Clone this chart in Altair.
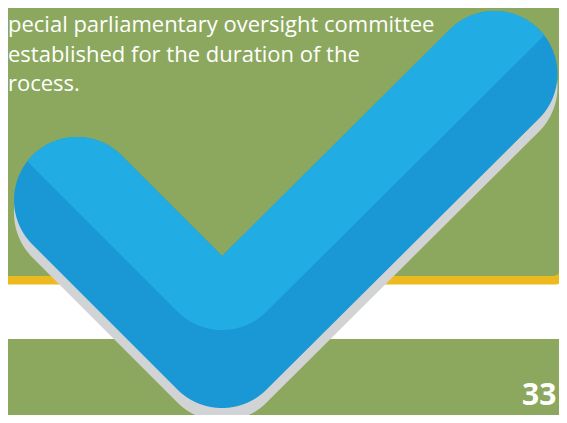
import altair as alt
import numpy as np
import pandas as pd

# ---- content (reference pixel units) ----
# check mark: centres of the two end caps and of the elbow
check_x = [77.0, 222.0, 494.5]
check_y = [200.0, 345.0, 74.0]
check_half_width = 63.0
shadow_drop = 13.0
highlight_lift = 78.0

# background bands: name, left, right, top, bottom, corner radius
band_names = ["white band", "yellow rule", "green panel"]
band_x1 = [-20.0, -20.0, -20.0]
band_x2 = [620.0, 563.0, 561.0]
band_y1 = [266.0, 262.0, -20.0]
band_y2 = [339.0, 284.5, 276.0]
band_corner = [0, 7, 8]
band_colors = ["#FFFFFF", "#ECB91E", "#8CA85E"]

# text
text_lines = ["pecial parliamentary oversight committee",
              "established for the duration of the",
              "rocess."]
text_x = [8.0, 8.0, 8.0]
text_y = [32.0, 61.5, 91.0]
page_number = ["33"]
page_x = [522.0]
page_y = [405.0]

BG_GREEN = "#8CA85E"
LIGHT_BLUE = "#21ADE3"
DARK_BLUE = "#1A97D5"
SHADOW = "#D1D3D4"

# ---- vertical slices of the thick round-capped stroke ----
pts = [np.array([a, b]) for a, b in zip(check_x, check_y)]
r = check_half_width


def capsule_slice(xv, A, B):
    ys = []
    for P in (A, B):
        dx = xv - P[0]
        if abs(dx) <= r:
            s = np.sqrt(max(r * r - dx * dx, 0.0))
            ys += [P[1] - s, P[1] + s]
    d = (B - A) / np.linalg.norm(B - A)
    n = np.array([-d[1], d[0]])
    poly = [A + r * n, B + r * n, B - r * n, A - r * n]
    for i in range(4):
        P, Q = poly[i], poly[(i + 1) % 4]
        if (P[0] - xv) * (Q[0] - xv) <= 0 and P[0] != Q[0]:
            t = (xv - P[0]) / (Q[0] - P[0])
            ys.append(P[1] + t * (Q[1] - P[1]))
    return ys


xmin = min(check_x) - r
xmax = max(check_x) + r
xs = np.unique(np.concatenate([np.arange(xmin, xmax, 0.2), [xmax]]))
rows = []
for xv in xs:
    ys = []
    for i in range(len(pts) - 1):
        ys += capsule_slice(xv, pts[i], pts[i + 1])
    if ys:
        rows.append((xv, min(ys), max(ys)))
stroke = pd.DataFrame(rows, columns=["x", "top", "bot"])

shadow_df = pd.DataFrame({"x": stroke["x"], "top": stroke["top"] + shadow_drop,
                          "bot": stroke["bot"] + shadow_drop})
light_df = pd.DataFrame({"x": stroke["x"], "top": stroke["top"],
                         "bot": stroke["bot"] - highlight_lift})
light_df = light_df[light_df["bot"] > light_df["top"]]

# ---- scales: reference pixels -> chart pixels (page margin 8px) ----
W, H = 551, 407
xs_scale = alt.Scale(domain=[8, 8 + W], range=[0, W], nice=False, zero=False)
ys_scale = alt.Scale(domain=[8, 8 + H], range=[0, H], nice=False, zero=False)

layers = []
for i in range(len(band_names)):
    d = pd.DataFrame({"band": [band_names[i]], "x": [band_x1[i]], "x2": [band_x2[i]],
                      "y": [band_y1[i]], "y2": [band_y2[i]]})
    if band_corner[i]:
        m = alt.Chart(d).mark_rect(color=band_colors[i],
                                   cornerRadiusBottomRight=band_corner[i])
    else:
        m = alt.Chart(d).mark_rect(color=band_colors[i])
    layers.append(m.encode(
        x=alt.X("x:Q", scale=xs_scale, axis=None), x2="x2:Q",
        y=alt.Y("y:Q", scale=ys_scale, axis=None), y2="y2:Q"))

text_df = pd.DataFrame({"line": text_lines, "x": text_x, "y": text_y})
layers.append(alt.Chart(text_df).mark_text(
    font="Open Sans", fontSize=22, color="#FFFFFF", align="left",
    baseline="alphabetic").encode(
    x=alt.X("x:Q", scale=xs_scale, axis=None),
    y=alt.Y("y:Q", scale=ys_scale, axis=None), text="line:N"))


def area_layer(df, color):
    return alt.Chart(df).mark_area(color=color, interpolate="linear").encode(
        x=alt.X("x:Q", scale=xs_scale, axis=None),
        y=alt.Y("top:Q", scale=ys_scale, axis=None), y2="bot:Q")


layers.append(area_layer(shadow_df, SHADOW))
layers.append(area_layer(stroke, DARK_BLUE))
layers.append(area_layer(light_df, LIGHT_BLUE))

page_df = pd.DataFrame({"label": page_number, "x": page_x, "y": page_y})
layers.append(alt.Chart(page_df).mark_text(
    font="Open Sans", fontSize=30, fontWeight="bold", color="#FFFFFF",
    align="left", baseline="alphabetic").encode(
    x=alt.X("x:Q", scale=xs_scale, axis=None),
    y=alt.Y("y:Q", scale=ys_scale, axis=None), text="label:N"))

chart = alt.layer(*layers).properties(
    width=W, height=H, padding=0, background=BG_GREEN,
    autosize=alt.AutoSizeParams(type="none"),
).configure_view(strokeWidth=0)

chart.save("out.html", embed_options={"renderer": "svg", "actions": False})
